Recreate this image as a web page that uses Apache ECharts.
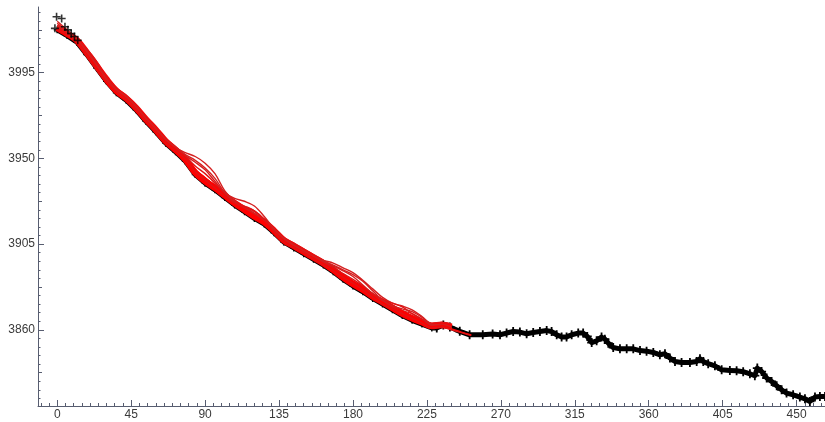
<!DOCTYPE html>
<html>
<head>
<meta charset="utf-8">
<script src="https://cdn.jsdelivr.net/npm/echarts@6/dist/echarts.min.js"></script>
<style>
  html, body { margin: 0; padding: 0; background: #ffffff; }
  #chart { width: 825px; height: 422px; }
</style>
</head>
<body>
<div id="chart"></div>
<script>
// Tick labels
const xTickLabels = [0, 45, 90, 135, 180, 225, 270, 315, 360, 405, 450];
const yTickLabels = [3860, 3905, 3950, 3995];

// Observed record (black "+" trace)
const obsX = [0, 6, 12, 18, 24, 30, 36, 42, 48, 54, 60, 66, 72, 78, 84, 90, 96, 102, 108, 114,
  120, 126, 132, 138, 144, 150, 156, 162, 168, 174, 180, 186, 192, 198, 204, 210, 216, 222, 228,
  231, 235, 239, 245, 251, 259, 265,
  269.5, 273.5, 277.5, 281.6, 285.7, 289.7, 293.8, 297.9, 300.9, 304,
  307, 310, 313.1, 317.1, 320.1, 322.6, 325.3, 328.3, 331.3, 333.3,
  335.4, 338.4, 342.5, 346.6, 350.6, 354.7, 358.7, 362.8, 366.8, 369.9,
  372.9, 376, 380, 385.1, 389.2, 391.2, 393.2, 396.2, 400.3, 404.4,
  409.4, 413.5, 417.5, 421.6, 424.6, 426.1, 428.7, 431.8, 434.8, 437.9,
  440.9, 443.9, 447.9, 452, 455.1, 458.1, 461.2, 464.2, 467.3];
const obsY = [4017.5, 4014.5, 4011, 4004.5, 3997.5, 3990.5, 3984.5, 3980.5, 3975.5, 3969.5,
  3964, 3958, 3953.5, 3948.5, 3941.5, 3937, 3933.5, 3929.5, 3925.5, 3922,
  3918.5, 3915.5, 3911, 3906, 3903, 3900, 3897, 3894, 3890.5, 3886.5,
  3883, 3880, 3876.5, 3873.5, 3870.5, 3867.5, 3865, 3863, 3861,
  3861, 3862.5, 3861.5, 3859.2, 3857.4, 3857.4, 3857.8,
  3857.4, 3858.3, 3859.1, 3858.8, 3857.9, 3858.6, 3859.1, 3859.6, 3859.1, 3857.4,
  3856.2, 3856.2, 3857.4, 3858.3, 3858.3, 3856.5, 3853.3, 3854.2, 3856.2, 3855.1,
  3853.0, 3850.7, 3850.0, 3850.0, 3850.0, 3849.1, 3848.8, 3848.1, 3846.9, 3847.4,
  3845.2, 3843.4, 3842.8, 3842.8, 3843.4, 3844.8, 3843.4, 3842.2, 3841.1, 3839.0,
  3838.7, 3838.5, 3838.0, 3836.9, 3835.9, 3839.9, 3838.1, 3834.7, 3832.9, 3830.6,
  3828.5, 3826.8, 3825.9, 3824.7, 3823.8, 3822.4, 3824.7, 3825.0, 3825.0];

// Scattered observations at the start of the record
const startX = [-1.4, -0.4, 2.7, 4.7, 6.5, 8.5, 10.5, 12.5];
const startY = [4018.3, 4024.4, 4023.5, 4019.1, 4017.5, 4015.5, 4014, 4012];

// Fitted ensemble (red curves), sampled on a common abscissa
const fitX = [0, 6, 12, 18, 24, 30, 36, 42, 48, 54, 60, 66, 72, 78, 84, 90, 96, 102, 108, 114,
  120, 126, 132, 138, 144, 150, 156, 162, 168, 174, 180, 186, 192, 198, 204, 210, 216, 222, 228,
  234, 240, 246, 252];
const fitCore = [4018.5, 4015.5, 4012, 4005.5, 3998.5, 3991.5, 3985.5, 3981.5, 3976.5, 3970.5,
  3965, 3959, 3954.5, 3949.5, 3942.5, 3938, 3934.5, 3930.5, 3926.5, 3923,
  3919.5, 3916.5, 3912, 3907, 3904, 3901, 3898, 3895, 3891.5, 3887.5,
  3884, 3881, 3877.5, 3874.5, 3871.5, 3868.5, 3866, 3864, 3862, 3862.5, 3861.5];
const fit1 = [4021, 4017, 4013.5, 4007, 4000, 3993, 3987, 3983, 3978, 3972,
  3966.5, 3960.5, 3956, 3951, 3944, 3939.5, 3936, 3932, 3928, 3924.5,
  3921, 3918, 3913.5, 3908.5, 3905.5, 3902.5, 3899.5, 3896.5, 3893, 3889,
  3885.5, 3882.5, 3879, 3876, 3873, 3870, 3867.5, 3865.5, 3863.5, 3864, 3863];
const fit2 = [4017.5, 4014.5, 4011, 4004.5, 3997.5, 3990.5, 3984.5, 3980.5, 3975.5, 3969.5,
  3964, 3958, 3953.5, 3948.5, 3941.5, 3937, 3933.5, 3929.5, 3925.5, 3922,
  3918.5, 3915.5, 3911, 3906, 3903, 3900, 3897, 3894, 3890.5, 3886.5,
  3883, 3880, 3876.5, 3873.5, 3870.5, 3867.5, 3865, 3863, 3861, 3861.5, 3860.5, 3858.8, 3857.3];
const fit3 = [4019, 4016, 4012.5, 4006, 3999, 3992, 3986, 3982, 3977, 3971,
  3965.5, 3959.5, 3955.5, 3953, 3951, 3947.5, 3942, 3933, 3927.5, 3924.5,
  3922, 3918, 3912.5, 3907.5, 3904.5, 3901.5, 3898.5, 3896.5, 3895, 3892.5,
  3890, 3886, 3881.5, 3877, 3874, 3872.5, 3870.5, 3867, 3863, 3862.5, 3861];
const fit4 = [4022, 4017.5, 4013, 4005.5, 3998.5, 3991.5, 3985.5, 3981.5, 3976.5, 3970.5,
  3965, 3959.5, 3955, 3951.5, 3948, 3944, 3938, 3932, 3929, 3927.5,
  3925, 3919.5, 3913, 3907, 3904, 3901, 3898, 3895.5, 3893.5, 3891,
  3888, 3883.5, 3879, 3875, 3872, 3870, 3868.5, 3865.5, 3862.5, 3862, 3860.5];
const fit5 = [4019.5, 4016, 4012.5, 4007.5, 4001, 3992.5, 3985.5, 3982, 3977.5, 3971,
  3965, 3959, 3955, 3951, 3946, 3942, 3937, 3931, 3927, 3925,
  3922.5, 3918, 3912, 3907.5, 3905, 3901.5, 3898, 3895, 3892.5, 3889.5,
  3886.5, 3883, 3878.5, 3876, 3874, 3872, 3868.5, 3865.5, 3862, 3862.5, 3861];
const fit6 = [4018, 4015, 4012, 4005, 3997.5, 3991, 3985.5, 3981, 3976, 3970.5,
  3964.5, 3958.5, 3954.5, 3950, 3944, 3940, 3935.5, 3930.5, 3926, 3923.5,
  3920.5, 3917, 3911.5, 3906.5, 3903.5, 3901, 3897.5, 3894.5, 3891.5, 3888.5,
  3885.5, 3882, 3877.5, 3874.5, 3872.5, 3870, 3867, 3864.5, 3861.5, 3862, 3860.5];
const fit7 = [4020, 4016.5, 4012.5, 4006, 3999, 3991.5, 3986, 3982.5, 3977, 3971,
  3965.5, 3960, 3956, 3952, 3949, 3945, 3939.5, 3932, 3927, 3924,
  3921, 3917.5, 3912.5, 3908, 3904.5, 3901.5, 3898.5, 3896, 3894, 3891.5,
  3889, 3885.5, 3880.5, 3875.5, 3872.5, 3871, 3869.5, 3866.5, 3862.5, 3863, 3861.5];
const fit8 = [4017.5, 4015, 4011, 4004, 3996.5, 3990.5, 3985, 3980.5, 3975.5, 3969.5,
  3964, 3958, 3954, 3949.5, 3943, 3938.5, 3934.5, 3930, 3926.5, 3924.5,
  3922.5, 3918, 3911.5, 3906, 3903, 3900.5, 3897, 3894, 3891, 3887.5,
  3884.5, 3881, 3877, 3873.5, 3871, 3868.5, 3866, 3863.5, 3861, 3861.5, 3860, 3858.5, 3857];

// Tick positions between the labelled ones
const xMinorTicks = [];
for (let k = -2; k <= 93; k++) {
  if (k % 9 !== 0) xMinorTicks.push(k * 5);
}
const yMidTicks = [];
const yMinorTicks = [];
for (let k = -8; k <= 37; k++) {
  const v = Math.round((3860 + 4.5 * k) * 10) / 10;
  if (k % 10 === 0) continue;
  if (k % 5 === 0) yMidTicks.push(v); else yMinorTicks.push(v);
}

const zip = (xs, ys) => ys.map((y, i) => [xs[i], y]);

const X_MIN = -11.7, X_MAX = 467.3, Y_MIN = 3820, Y_MAX = 4029.5;
const AXIS_COLOR = '#575d70';
const PLUS = 'path://M4,0H6V4H10V6H6V10H4V6H0V4H4Z';
const LABEL_STYLE = {
  show: true, margin: 3, color: '#3a3a3a',
  fontFamily: 'Liberation Sans, Arial, sans-serif', fontSize: 12,
  formatter: (v) => String(v)
};

function xAxisDef(ticks, len, showLine, labels) {
  return {
    type: 'value', min: X_MIN, max: X_MAX, position: 'bottom',
    axisLine: { show: showLine, onZero: false, lineStyle: { color: AXIS_COLOR, width: 1 } },
    axisTick: { show: true, inside: true, length: len, customValues: ticks,
      lineStyle: { color: AXIS_COLOR, width: 1 } },
    axisLabel: labels ? Object.assign({ customValues: labels }, LABEL_STYLE) : { show: false },
    splitLine: { show: false }
  };
}
function yAxisDef(ticks, len, showLine, labels) {
  return {
    type: 'value', min: Y_MIN, max: Y_MAX, position: 'left',
    axisLine: { show: showLine, onZero: false, lineStyle: { color: AXIS_COLOR, width: 1 } },
    axisTick: { show: true, inside: true, length: len, customValues: ticks,
      lineStyle: { color: AXIS_COLOR, width: 1 } },
    axisLabel: labels ? Object.assign({ customValues: labels }, LABEL_STYLE) : { show: false },
    splitLine: { show: false }
  };
}

const fitLine = (arr, width, color) => ({
  type: 'line', data: zip(fitX, arr), symbol: 'none', smooth: 0.35,
  lineStyle: { color: color, width: width }, z: 3, silent: true
});

const chart = echarts.init(document.getElementById('chart'), null, { renderer: 'canvas' });
chart.setOption({
  animation: false,
  backgroundColor: '#ffffff',
  grid: { left: 38, top: 7, right: 0, bottom: 16, containLabel: false },
  xAxis: [
    xAxisDef(xTickLabels, 6, true, xTickLabels),
    xAxisDef(xMinorTicks, 3, false, null)
  ],
  yAxis: [
    yAxisDef(yTickLabels, 6, true, yTickLabels),
    yAxisDef(yMidTicks, 4, false, null),
    yAxisDef(yMinorTicks, 2.5, false, null)
  ],
  series: [
    {
      type: 'line', data: zip(obsX, obsY),
      symbol: PLUS, showSymbol: true, showAllSymbol: true,
      // markers under the fitted band are drawn a little smaller
      symbolSize: (val) => (val[0] < 230 ? 7 : 9),
      itemStyle: { color: '#000000' },
      lineStyle: { color: '#000000', width: 5, join: 'round' },
      z: 2, silent: true
    },
    fitLine(fitCore, 6.5, '#ff0000'),
    fitLine(fit1, 1.4, '#e01414'),
    fitLine(fit2, 1.4, '#ff0000'),
    fitLine(fit3, 1.4, '#d42020'),
    fitLine(fit4, 1.4, '#d42020'),
    fitLine(fit5, 1.4, '#e01414'),
    fitLine(fit6, 1.4, '#ff0000'),
    fitLine(fit7, 1.4, '#d42020'),
    fitLine(fit8, 1.4, '#e01414'),
    {
      type: 'scatter', data: zip(startX, startY),
      symbol: PLUS, symbolSize: 8,
      itemStyle: { color: '#000000' }, z: 4, silent: true
    }
  ]
});
</script>
</body>
</html>
